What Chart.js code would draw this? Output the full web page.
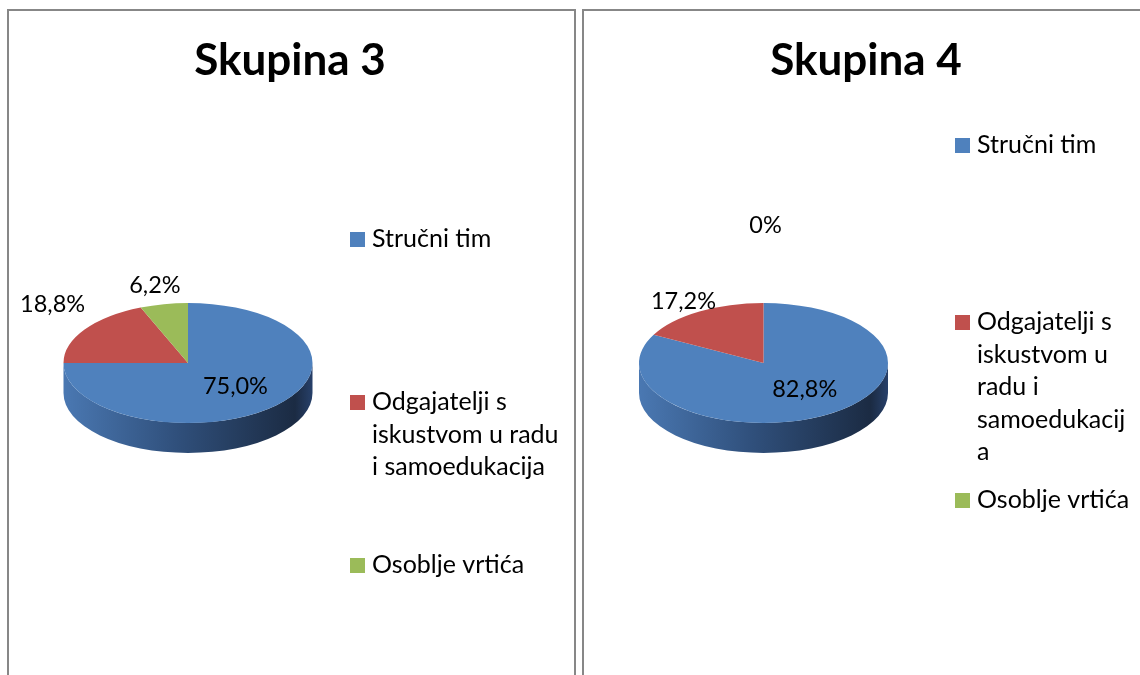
<!DOCTYPE html>
<html>
<head>
<meta charset="utf-8">
<script src="https://cdn.jsdelivr.net/npm/chart.js@4"></script>
<style>
  body { margin: 0; background: #fff; width: 1140px; height: 675px; overflow: hidden; position: relative; }
  .panel { position: absolute; top: 9px; border: 2px solid #878787; border-bottom: none; background: #fff; height: 700px; }
  #p3 { left: 7px; width: 565px; }
  #p4 { left: 582px; width: 600px; border-right: none; }
  canvas { position: absolute; left: 0; top: 0; }
</style>
</head>
<body>
<div class="panel" id="p3"><canvas id="chart3" width="565" height="664"></canvas></div>
<div class="panel" id="p4"><canvas id="chart4" width="556" height="664"></canvas></div>
<script>
// data
const titles = ['Skupina 3', 'Skupina 4'];
const categories3 = [['Stručni tim'], ['Odgajatelji s', 'iskustvom u radu', 'i samoedukacija'], ['Osoblje vrtića']];
const categories4 = [['Stručni tim'], ['Odgajatelji s', 'iskustvom u', 'radu i', 'samoedukacij', 'a'], ['Osoblje vrtića']];
const values3 = [75.0, 18.8, 6.2];
const values4 = [82.8, 17.2, 0];

const sliceColors = ['#4f81bd', '#c0504d', '#9bbb59'];
// side wall shading, light on the left -> dark on the right
const sideStops = [
  ['#4a78b2', '#30507c', '#1b2b43', '#27406a'],
  ['#b8504c', '#8a3532', '#521d1c', '#6a2a28'],
  ['#92b255', '#6d8a3a', '#3f5220', '#53692c']
];
const fontFamily = 'Lato, "Open Sans", sans-serif';

const fmtPct = v => v === 0 ? '0%' : v.toFixed(1).replace('.', ',') + '%';

const pie3d = {
  id: 'pie3d',
  beforeDatasetsDraw(chart, args, o) {
    const ctx = chart.ctx;
    const arcs = chart.getDatasetMeta(0).data;
    const {x, y, outerRadius: r} = arcs[0];
    const ry = r * o.tilt;
    // side walls (front half only)
    arcs.forEach((arc, i) => {
      if (arc.circumference <= 0) return;
      [-2 * Math.PI, 0, 2 * Math.PI].forEach(off => {
        const a0 = Math.max(arc.startAngle + off, 0);
        const a1 = Math.min(arc.endAngle + off, Math.PI);
        if (a1 <= a0) return;
        const g = ctx.createLinearGradient(x - r, 0, x + r, 0);
        const st = sideStops[i];
        g.addColorStop(0, st[0]);
        g.addColorStop(0.45, st[1]);
        g.addColorStop(0.93, st[2]);
        g.addColorStop(1, st[3]);
        ctx.beginPath();
        ctx.ellipse(x, y, r, ry, 0, a0, a1);
        ctx.ellipse(x, y + o.depth, r, ry, 0, a1, a0, true);
        ctx.closePath();
        ctx.fillStyle = g;
        ctx.fill();
      });
    });
    // top faces: library arcs squashed vertically
    ctx.save();
    ctx.translate(x, y);
    ctx.scale(1, o.tilt);
    ctx.translate(-x, -y);
    arcs.forEach(arc => { if (arc.circumference > 0) arc.draw(ctx); });
    ctx.restore();
    return false;
  },
  afterDraw(chart, args, o) {
    const ctx = chart.ctx;
    const arcs = chart.getDatasetMeta(0).data;
    const values = chart.data.datasets[0].data;
    const total = values.reduce((a, b) => a + b, 0);
    ctx.save();
    ctx.fillStyle = '#000';
    ctx.textAlign = 'center';
    ctx.textBaseline = 'middle';
    ctx.font = o.labelFont + 'px ' + fontFamily;
    arcs.forEach((arc, i) => {
      const mid = (arc.startAngle + arc.endAngle) / 2;
      const f = values[i] / total >= 0.5 ? o.insideFactor : 1;
      const px = arc.x + f * arc.outerRadius * Math.cos(mid) + o.labelNudge[i][0];
      const py = arc.y + f * arc.outerRadius * o.tilt * Math.sin(mid) + o.labelNudge[i][1];
      ctx.fillText(fmtPct(values[i]), px, py);
    });

    // legend
    ctx.textAlign = 'left';
    ctx.textBaseline = 'alphabetic';
    ctx.font = o.legendFont + 'px ' + fontFamily;
    chart.data.labels.forEach((lines, i) => {
      const base = o.legendBaselines[i];
      ctx.fillStyle = sliceColors[i];
      ctx.fillRect(o.legendSquareX, base - 15, 15, 15);
      ctx.fillStyle = '#000';
      lines.forEach((t, j) => ctx.fillText(t, o.legendTextX, base + j * o.lineHeight));
    });

    // title
    ctx.textAlign = 'center';
    ctx.font = 'bold ' + o.titleFont + 'px ' + fontFamily;
    ctx.fillText(o.title, o.titleX, o.titleBaseline);
    ctx.restore();
  }
};

function makeChart(id, title, labels, values, lay) {
  return new Chart(document.getElementById(id), {
    type: 'pie',
    data: {
      labels: labels,
      datasets: [{ data: values, backgroundColor: sliceColors, borderWidth: 0, radius: 124.5 }]
    },
    options: {
      responsive: false,
      animation: false,
      devicePixelRatio: 1,
      radius: 124.5,
      layout: { padding: lay.padding },
      events: [],
      plugins: {
        legend: { display: false },
        title: { display: false },
        tooltip: { enabled: false },
        pie3d: Object.assign({
          title: title,
          tilt: 0.482,
          depth: 30,
          insideFactor: 0.55,
          labelFont: 23.5,
          legendFont: 25,
          titleFont: 44,
          lineHeight: 32.5
        }, lay.pie3d)
      }
    },
    plugins: [pie3d]
  });
}

makeChart('chart3', titles[0], categories3, values3, {
  padding: { left: 39, right: 246, top: 212, bottom: 172 },
  pie3d: {
    labelNudge: [[-1, 0], [-32, -25], [-9, -19]],
    legendSquareX: 341, legendTextX: 363, legendBaselines: [236, 399, 562],
    titleX: 281, titleBaseline: 64
  }
});

makeChart('chart4', titles[1], categories4, values4, {
  padding: { left: 39.5, right: 236.5, top: 212, bottom: 172 },
  pie3d: {
    labelNudge: [[6, -2], [-16, -10], [2, -78]],
    legendSquareX: 371, legendTextX: 393, legendBaselines: [142, 319, 497],
    titleX: 282, titleBaseline: 64
  }
});
</script>
</body>
</html>
